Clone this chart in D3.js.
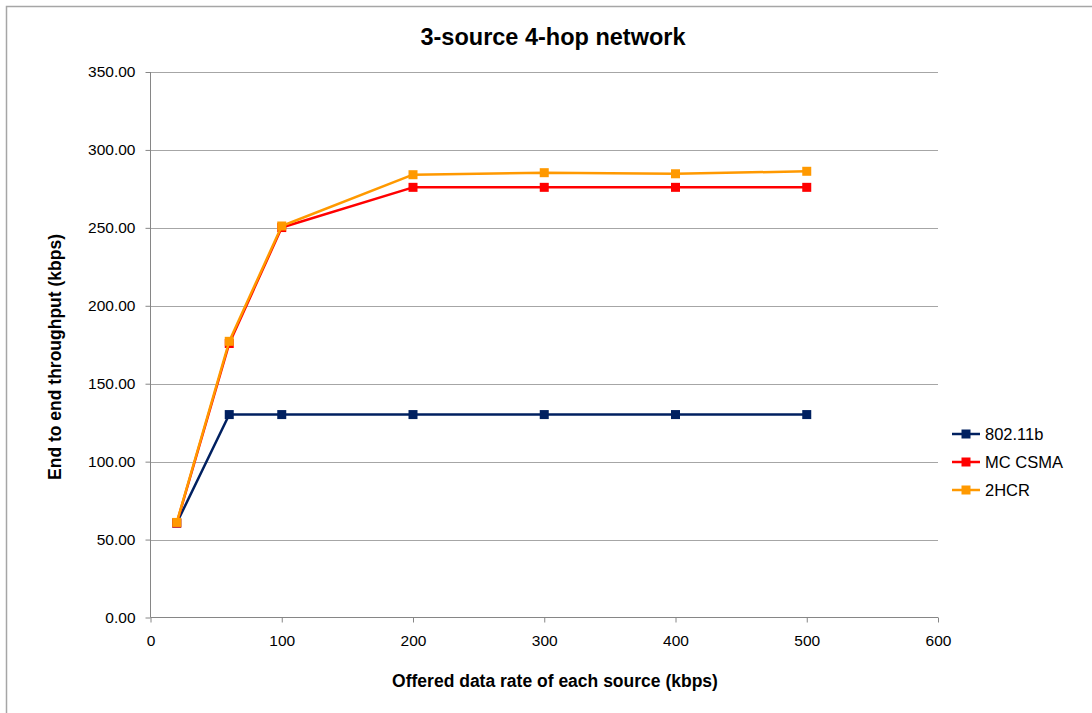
<!DOCTYPE html>
<html><head><meta charset="utf-8">
<script src="https://cdn.jsdelivr.net/npm/d3@7"></script>
<style>body{margin:0;background:#fff}svg{display:block;font-family:"Liberation Sans",Arial,sans-serif}</style>
</head><body><svg id="c" width="1092" height="713"></svg>
<script>
const xValues = [20, 60, 100, 200, 300, 400, 500];
const series80211b = [60.6, 130.2, 130.2, 130.2, 130.2, 130.2, 130.2];
const seriesMCCSMA = [60.6, 175.8, 250.2, 276.0, 276.0, 276.0, 276.0];
const series2HCR = [61.0, 177.2, 251.2, 284.1, 285.4, 284.7, 286.3];
const seriesNames = ["802.11b", "MC CSMA", "2HCR"];
const seriesColors = ["#002060", "#ff0000", "#ff9900"];
const yTicks = [0, 50, 100, 150, 200, 250, 300, 350];
const xTicks = [0, 100, 200, 300, 400, 500, 600];

const svg = d3.select("#c");
svg.append("rect").attr("x",6.5).attr("y",6.5).attr("width",1200).attr("height",800)
  .attr("fill","none").attr("stroke","#a6a6a6").attr("stroke-width",1.5);

const x = d3.scaleLinear().domain([0,600]).range([150.5,938]);
const y = d3.scaleLinear().domain([0,350]).range([617.5,72]);

svg.append("g").selectAll("line").data(yTicks.filter(d=>d>0)).join("line")
  .attr("x1",x(0)).attr("x2",x(600)).attr("y1",d=>Math.round(y(d))+0.5).attr("y2",d=>Math.round(y(d))+0.5)
  .attr("stroke","#a6a6a6").attr("stroke-width",1);

const yAxis = svg.append("g").attr("transform",`translate(${x(0)},0)`)
  .call(d3.axisLeft(y).tickValues(yTicks).tickFormat(d3.format(".2f")).tickSize(5).tickPadding(10));
const xAxis = svg.append("g").attr("transform",`translate(0,${y(0)})`)
  .call(d3.axisBottom(x).tickValues(xTicks).tickSize(5).tickPadding(12));
[yAxis,xAxis].forEach(a=>{
  a.selectAll("path,line").attr("stroke","#868686");
  a.selectAll("text").attr("fill","#000").style("font-size","15.5px");
});
xAxis.select(".domain").attr("d",`M${x(0)},0H${x(600)}`);
yAxis.select(".domain").attr("d",`M0,${y(0)}V${y(350)}`);

const all = [series80211b, seriesMCCSMA, series2HCR];
const line = d3.line().x((d,i)=>x(xValues[i])).y(d=>y(d));
all.forEach((s,k)=>{
  const g = svg.append("g");
  g.append("path").datum(s).attr("d",line).attr("fill","none")
    .attr("stroke",seriesColors[k]).attr("stroke-width",2.5).attr("stroke-linejoin","round");
  g.selectAll("rect").data(s).join("rect")
    .attr("x",(d,i)=>x(xValues[i])-4.5).attr("y",d=>y(d)-4.5)
    .attr("width",9).attr("height",9).attr("fill",seriesColors[k]);
});

svg.append("text").attr("x",553).attr("y",45).attr("text-anchor","middle")
  .style("font-size","23.5px").style("font-weight","bold").text("3-source 4-hop network");
svg.append("text").attr("transform","translate(61,357) rotate(-90)").attr("text-anchor","middle")
  .style("font-size","17.5px").style("font-weight","bold").text("End to end throughput (kbps)");
svg.append("text").attr("x",555).attr("y",687).attr("text-anchor","middle")
  .style("font-size","17.5px").style("font-weight","bold").text("Offered data rate of each source (kbps)");

const legY = [434, 462, 490];
seriesNames.forEach((n,k)=>{
  const g = svg.append("g").attr("transform",`translate(0,${legY[k]})`);
  g.append("line").attr("x1",952).attr("x2",980).attr("y1",0).attr("y2",0)
    .attr("stroke",seriesColors[k]).attr("stroke-width",2.5);
  g.append("rect").attr("x",961.5).attr("y",-4.5).attr("width",9).attr("height",9).attr("fill",seriesColors[k]);
  g.append("text").attr("x",985).attr("y",6).style("font-size","16.5px").text(n);
});
</script></body></html>
